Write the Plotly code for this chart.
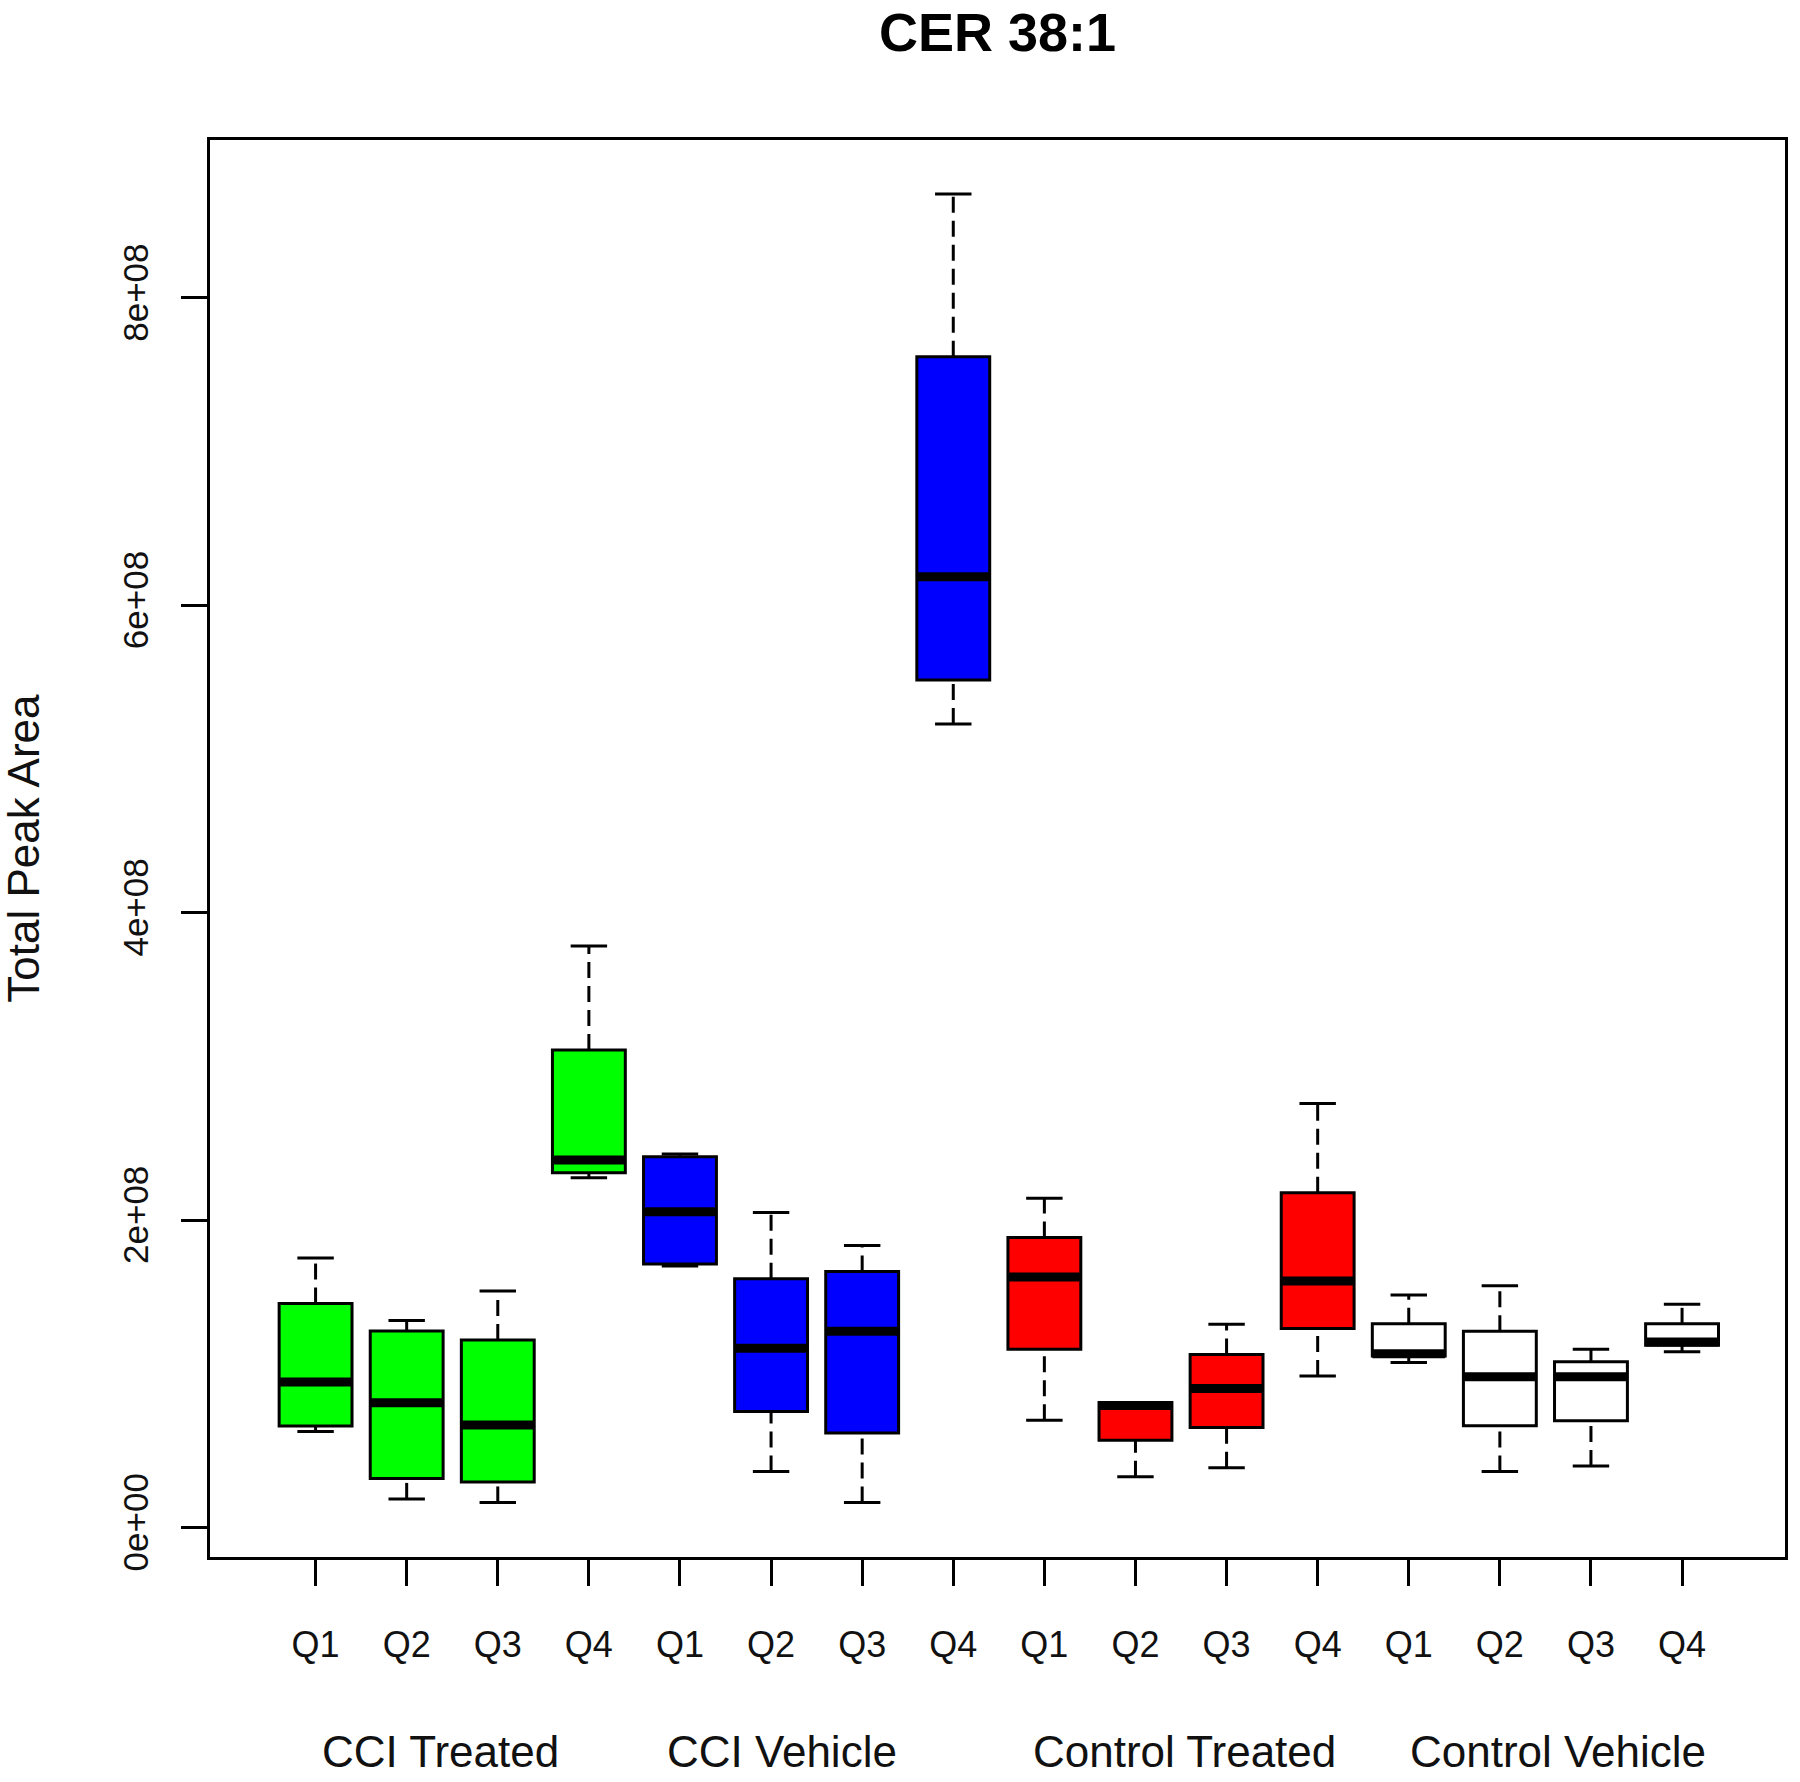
import plotly.graph_objects as go

# ---------------- data (Total Peak Area) ----------------
groups = ["CCI Treated", "CCI Vehicle", "Control Treated", "Control Vehicle"]
quarters = ["Q1", "Q2", "Q3", "Q4"]

# 16 boxes in order: CCI Treated Q1..Q4, CCI Vehicle Q1..Q4, Control Treated Q1..Q4, Control Vehicle Q1..Q4
whisker_low = [0.625e8, 0.186e8, 0.163e8, 2.276e8,
               1.701e8, 0.365e8, 0.163e8, 5.228e8,
               0.697e8, 0.330e8, 0.388e8, 0.986e8,
               1.074e8, 0.365e8, 0.400e8, 1.143e8]
quart1 = [0.660e8, 0.318e8, 0.296e8, 2.308e8,
          1.714e8, 0.755e8, 0.614e8, 5.514e8,
          1.160e8, 0.567e8, 0.651e8, 1.294e8,
          1.116e8, 0.662e8, 0.695e8, 1.185e8]
medians = [0.947e8, 0.811e8, 0.667e8, 2.391e8,
           2.055e8, 1.166e8, 1.276e8, 6.186e8,
           1.630e8, 0.794e8, 0.904e8, 1.604e8,
           1.131e8, 0.981e8, 0.981e8, 1.207e8]
quart3 = [1.457e8, 1.278e8, 1.220e8, 3.107e8,
          2.412e8, 1.619e8, 1.666e8, 7.617e8,
          1.887e8, 0.813e8, 1.125e8, 2.177e8,
          1.325e8, 1.276e8, 1.078e8, 1.325e8]
whisker_high = [1.754e8, 1.347e8, 1.539e8, 3.783e8,
                2.430e8, 2.049e8, 1.835e8, 8.676e8,
                2.142e8, 0.813e8, 1.322e8, 2.758e8,
                1.513e8, 1.573e8, 1.160e8, 1.452e8]

y_tick_values = [0, 2e8, 4e8, 6e8, 8e8]

# ---------------- styles ----------------
group_colors = ["#00FF00", "#0000FF", "#FF0000", "#FFFFFF"]
FONT = "Liberation Sans, Arial, sans-serif"
BOX_W = 0.8
CAP_W = 0.4

positions = list(range(1, len(medians) + 1))
n_q = len(quarters)

fig = go.Figure()

# boxes
for gi, g in enumerate(groups):
    sl = slice(gi * n_q, (gi + 1) * n_q)
    fig.add_trace(go.Box(
        x=positions[sl], q1=quart1[sl], median=medians[sl], q3=quart3[sl],
        lowerfence=quart1[sl], upperfence=quart3[sl],
        width=BOX_W, whiskerwidth=0, boxpoints=False,
        fillcolor=group_colors[gi], line=dict(color="black", width=3),
        name=g, showlegend=False, hoverinfo="skip"))

# whiskers (dashed), caps, medians
wx, wy, cx, cy, mx, my = [], [], [], [], [], []
for p, lo, a, m, b, hi in zip(positions, whisker_low, quart1, medians, quart3, whisker_high):
    wx += [p, p, None, p, p, None]
    wy += [b, hi, None, lo, a, None]
    cx += [p - CAP_W / 2, p + CAP_W / 2, None, p - CAP_W / 2, p + CAP_W / 2, None]
    cy += [hi, hi, None, lo, lo, None]
    mx += [p - BOX_W / 2, p + BOX_W / 2, None]
    my += [m, m, None]

fig.add_trace(go.Scatter(x=wx, y=wy, mode="lines", showlegend=False, hoverinfo="skip",
                         line=dict(color="black", width=3, dash="16px,8px")))
fig.add_trace(go.Scatter(x=cx, y=cy, mode="lines", showlegend=False, hoverinfo="skip",
                         line=dict(color="black", width=3)))
fig.add_trace(go.Scatter(x=mx, y=my, mode="lines", showlegend=False, hoverinfo="skip",
                         line=dict(color="black", width=9)))

# group labels under the axis
label_x = [2.37, 6.12, 10.54, 14.64]
annotations = [dict(text=g, x=lx, xref="x", y=-0.1376, yref="paper", showarrow=False,
                    xanchor="center", yanchor="middle",
                    font=dict(family=FONT, size=44, color="#111"))
               for g, lx in zip(groups, label_x)]
annotations.append(dict(text="Total Peak Area", x=-0.1186, xref="paper", y=0.5, yref="paper",
                        textangle=-90, showarrow=False, xanchor="center", yanchor="middle",
                        font=dict(family=FONT, size=44, color="#111")))

fig.update_layout(
    width=1800, height=1782,
    margin=dict(l=210, r=13, t=140, b=225),
    paper_bgcolor="white", plot_bgcolor="white",
    title=dict(text="CER 38:1", x=0.5, xref="paper", xanchor="center",
               y=1 - 32 / 1782, yref="container", yanchor="middle",
               font=dict(family=FONT, size=54, color="black", weight="bold")),
    annotations=annotations,
    boxmode="overlay",
    xaxis=dict(range=[-0.159, 17.13], tickmode="array", tickvals=positions,
               ticktext=quarters * len(groups),
               ticks="outside", ticklen=26, tickwidth=3, tickcolor="black",
               showline=True, linewidth=3, linecolor="black", mirror=True,
               showgrid=False, zeroline=False, ticklabelstandoff=28,
               tickfont=dict(family=FONT, size=36, color="#111")),
    yaxis=dict(range=[-0.192e8, 9.027e8], tickmode="array", tickvals=y_tick_values,
               ticktext=[f"{v:.0e}" for v in y_tick_values], tickangle=-90,
               ticks="outside", ticklen=26, tickwidth=3, tickcolor="black",
               showline=True, linewidth=3, linecolor="black", mirror=True,
               showgrid=False, zeroline=False, ticklabelstandoff=19,
               tickfont=dict(family=FONT, size=35, color="#111")),
)

fig.write_html("out.html", config={"displayModeBar": False},
               post_script="document.body.style.margin='0';")
